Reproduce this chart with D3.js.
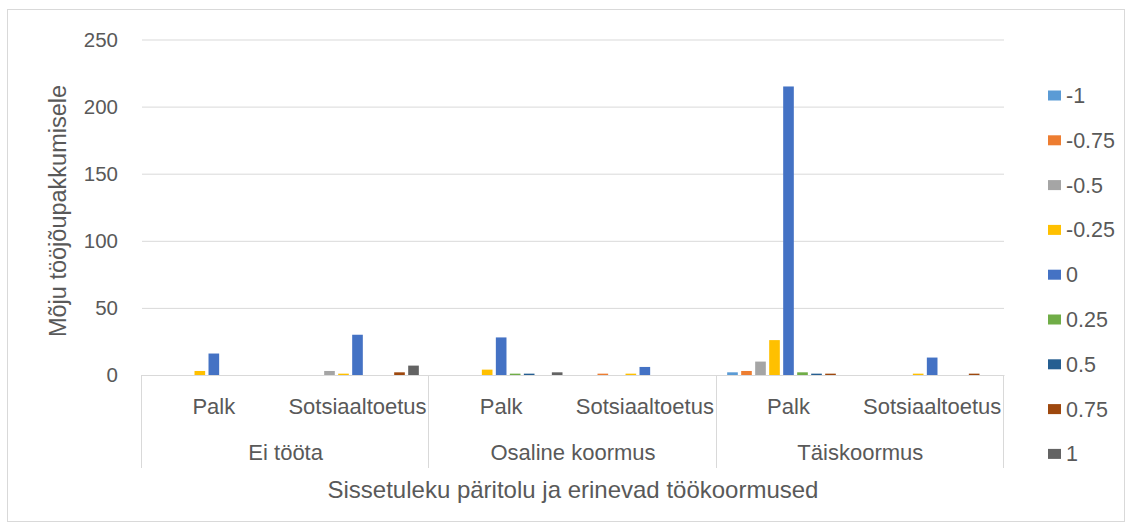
<!DOCTYPE html>
<html lang="et">
<head>
<meta charset="UTF-8">
<title>Mõju tööjõupakkumisele</title>
<script src="https://d3js.org/d3.v7.min.js"></script>
<style>
    body { margin: 0; background: #fff; font-family: "Liberation Sans", Arial, sans-serif; }
    text { fill: #595959; }
</style>
</head>
<body>
<div id="chart"></div>
<script>
    // andmed
    const groups = ["Ei tööta", "Osaline koormus", "Täiskoormus"];
    const subgroups = ["Palk", "Sotsiaaltoetus"];
    const seriesNames = ["-1", "-0.75", "-0.5", "-0.25", "0", "0.25", "0.5", "0.75", "1"];
    const seriesColors = ["#5B9BD5", "#ED7D31", "#A5A5A5", "#FFC000", "#4472C4", "#70AD47", "#255E91", "#9E480E", "#636363"];

    // väärtused kategooriate kaupa: Ei tööta Palk, Ei tööta Sots., Osaline Palk, Osaline Sots., Täis Palk, Täis Sots.
    const sMinus1   = [0, 0, 0, 0, 2, 0];
    const sMinus075 = [0, 0, 0, 1, 3, 0];
    const sMinus05  = [0, 3, 0, 0, 10, 0];
    const sMinus025 = [3, 1, 4, 1, 26, 1];
    const sZero     = [16, 30, 28, 6, 215, 13];
    const s025      = [0, 0, 1, 0, 2, 0];
    const s05       = [0, 0, 1, 0, 1, 0];
    const s075      = [0, 2, 0, 0, 1, 1];
    const sOne      = [0, 7, 2, 0, 0, 0];
    const seriesValues = [sMinus1, sMinus075, sMinus05, sMinus025, sZero, s025, s05, s075, sOne];

    const yTicks = [0, 50, 100, 150, 200, 250];

    const W = 1133, H = 530;
    const plotLeft = 142, plotRight = 1004, plotTop = 39.5, plotBottom = 375;

    const svg = d3.select("#chart").append("svg")
        .attr("width", W).attr("height", H);

    // välimine raam
    svg.append("rect")
        .attr("x", 7.5).attr("y", 9.5)
        .attr("width", 1117).attr("height", 512)
        .attr("fill", "#fff").attr("stroke", "#d9d9d9");

    const cats = [];
    groups.forEach(g => subgroups.forEach(s => cats.push(g + "|" + s)));

    const x0 = d3.scaleBand().domain(cats).range([plotLeft, plotRight]).padding(0);
    const x1 = d3.scaleBand().domain(seriesNames).range([0, x0.bandwidth()])
        .paddingInner(0.24).paddingOuter(0.75);
    const y = d3.scaleLinear().domain([0, 250]).range([plotBottom, plotTop]);

    // ruudujooned
    svg.append("g").selectAll("line")
        .data(yTicks.filter(t => t > 0))
        .enter().append("line")
        .attr("x1", plotLeft).attr("x2", plotRight)
        .attr("y1", d => y(d) + 0.5).attr("y2", d => y(d) + 0.5)
        .attr("stroke", "#d9d9d9").attr("stroke-width", 1);

    // y telg
    const yAxis = svg.append("g")
        .attr("transform", `translate(${plotLeft - 24},0)`)
        .call(d3.axisLeft(y).tickValues(yTicks).tickSize(0).tickPadding(0));
    yAxis.select(".domain").remove();
    yAxis.selectAll("text")
        .style("font-size", "20.5px")
        .style("font-family", "'Liberation Sans', Arial, sans-serif")
        .attr("fill", "#595959");

    // tulbad
    const catG = svg.append("g").selectAll("g")
        .data(cats)
        .enter().append("g")
        .attr("transform", d => `translate(${x0(d)},0)`);

    catG.selectAll("rect")
        .data((d, ci) => seriesNames.map((s, si) => ({ s, si, v: seriesValues[si][ci] })).filter(d => d.v > 0))
        .enter().append("rect")
        .attr("x", d => x1(d.s))
        .attr("width", x1.bandwidth())
        .attr("y", d => y(d.v))
        .attr("height", d => y(0) - y(d.v))
        .attr("fill", d => seriesColors[d.si]);

    // x telg (mitmetasandiline)
    const axisColor = "#d9d9d9";
    svg.append("line")
        .attr("x1", plotLeft - 0.5).attr("x2", plotRight + 0.5)
        .attr("y1", plotBottom + 0.5).attr("y2", plotBottom + 0.5)
        .attr("stroke", axisColor);

    const groupEdges = [0, 2, 4, 6].map(i => i < 6 ? x0(cats[i]) : plotRight);
    svg.append("g").selectAll("line")
        .data(groupEdges)
        .enter().append("line")
        .attr("x1", d => Math.round(d) - 0.5).attr("x2", d => Math.round(d) - 0.5)
        .attr("y1", plotBottom).attr("y2", 468)
        .attr("stroke", axisColor);

    svg.append("g").selectAll("text")
        .data(cats)
        .enter().append("text")
        .attr("x", d => x0(d) + x0.bandwidth() / 2)
        .attr("y", 414)
        .attr("text-anchor", "middle")
        .style("font-size", "22px")
        .text(d => d.split("|")[1]);

    svg.append("g").selectAll("text")
        .data(groups)
        .enter().append("text")
        .attr("x", (d, i) => (groupEdges[i] + groupEdges[i + 1]) / 2)
        .attr("y", 460)
        .attr("text-anchor", "middle")
        .style("font-size", "22px")
        .text(d => d);

    // telgede pealkirjad
    svg.append("text")
        .attr("x", (plotLeft + plotRight) / 2)
        .attr("y", 498)
        .attr("text-anchor", "middle")
        .style("font-size", "24px")
        .text("Sissetuleku päritolu ja erinevad töökoormused");

    svg.append("text")
        .attr("transform", "translate(66,211) rotate(-90)")
        .attr("text-anchor", "middle")
        .style("font-size", "23.5px")
        .text("Mõju tööjõupakkumisele");

    // legend
    const legend = svg.append("g").selectAll("g")
        .data(seriesNames)
        .enter().append("g")
        .attr("transform", (d, i) => `translate(1048,${95.5 + i * 44.8})`);
    legend.append("rect")
        .attr("x", 0).attr("y", -5)
        .attr("width", 13).attr("height", 10)
        .attr("fill", (d, i) => seriesColors[i]);
    legend.append("text")
        .attr("x", 18).attr("y", 7.5)
        .style("font-size", "21.5px")
        .text(d => d);
</script>
</body>
</html>
